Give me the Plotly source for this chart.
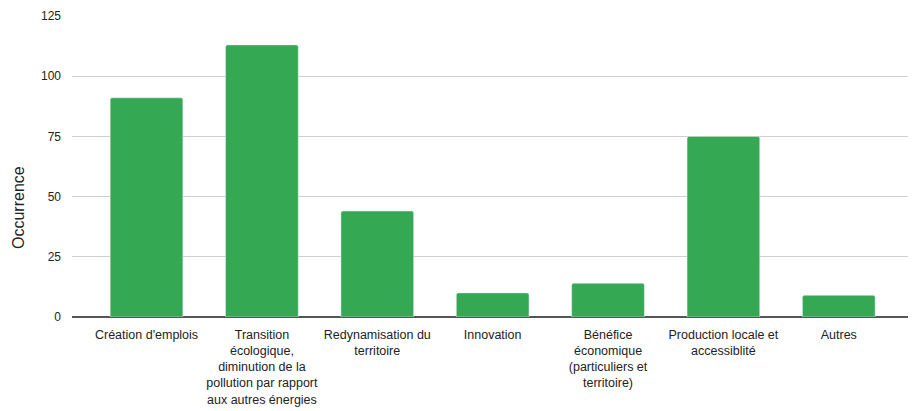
import plotly.graph_objects as go

categories = [
    "Création d'emplois",
    "Transition<br>écologique,<br>diminution de la<br>pollution par rapport<br>aux autres énergies",
    "Redynamisation du<br>territoire",
    "Innovation",
    "Bénéfice<br>économique<br>(particuliers et<br>territoire)",
    "Production locale et<br>accessiblité",
    "Autres",
]
values = [91, 113, 44, 10, 14, 75, 9]
y_ticks = [0, 25, 50, 75, 100, 125]
y_title = "Occurrence"

fig = go.Figure(go.Bar(
    x=list(range(len(categories))),
    y=values,
    marker=dict(color="#34a853", cornerradius=2),
    width=0.63,
))

fig.update_layout(
    width=914, height=411,
    margin=dict(l=72, r=6, t=16, b=94, autoexpand=False),
    paper_bgcolor="white", plot_bgcolor="white",
    font=dict(family="Liberation Sans, Arial, sans-serif", size=12, color="#222"),
    showlegend=False,
    xaxis=dict(
        tickmode="array", tickvals=list(range(len(categories))), ticktext=categories,
        range=[-0.646, 6.6], showgrid=False, showline=False, ticks="",
        tickfont=dict(size=12.5, color="#222"), tickangle=0, ticklabelstandoff=8,
        automargin=False,
    ),
    yaxis=dict(
        range=[0, 125], tickvals=y_ticks, showgrid=True, gridcolor="#d0d0d0", gridwidth=1,
        zeroline=True, zerolinecolor="#555", zerolinewidth=1.5,
        ticks="", ticklabelstandoff=10, tickfont=dict(size=12, color="#222"),
        automargin=False,
    ),
    annotations=[dict(
        text=y_title, textangle=-90, showarrow=False,
        xref="paper", yref="paper", x=-(72 - 18) / 836, y=(317 - 208) / 301,
        xanchor="center", yanchor="middle",
        font=dict(size=16, color="#222"),
    )],
)

fig.write_html("out.html", config={"displayModeBar": False},
               post_script="document.body.style.margin='0';")
